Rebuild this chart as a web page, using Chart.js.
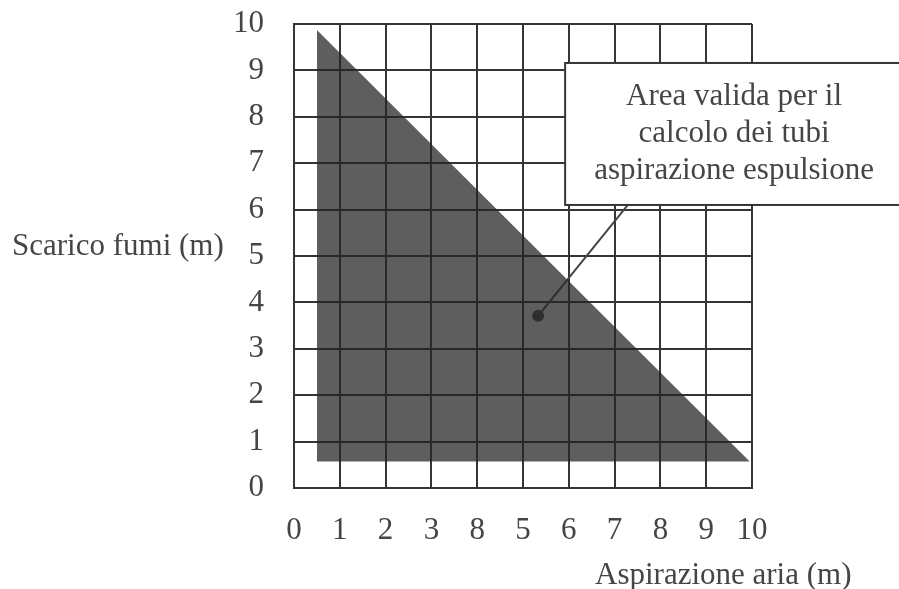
<!DOCTYPE html>
<html>
<head>
<meta charset="utf-8">
<script src="https://cdn.jsdelivr.net/npm/chart.js@4.4.1/dist/chart.umd.min.js"></script>
<style>
  html, body { margin: 0; padding: 0; background: #fff; }
  #wrap { width: 899px; height: 589px; }
</style>
</head>
<body>
<div id="wrap"><canvas id="c" width="899" height="589"></canvas></div>
<script>
// tick labels (the x axis really reads "8" where 4 should be)
var xTickLabels = ['0', '1', '2', '3', '8', '5', '6', '7', '8', '9', '10'];
var yTickLabels = ['0', '1', '2', '3', '4', '5', '6', '7', '8', '9', '10'];

// valid area: hypotenuse, filled down to its base
var areaX = [0.5, 9.95];
var areaY = [9.87, 0.57];
var areaBase = 0.57;

// callout marker and leader
var markerX = [5.33];
var markerY = [3.71];
var leaderX = [5.33, 7.29];
var leaderY = [3.71, 6.10];

// callout box (data units) and its text
var boxLeft = 5.92, boxTop = 9.16, boxBottom = 6.10;
var boxLines = ['Area valida per il', 'calcolo dei tubi', 'aspirazione espulsione'];

var yTitle = 'Scarico fumi (m)';
var xTitle = 'Aspirazione aria (m)';

var FONT = '31px "Liberation Serif", "Times New Roman", serif';
var INK = '#454545';
var GRID = '#353535';

function pts(xs, ys) {
  return xs.map(function (x, i) { return { x: x, y: ys[i] }; });
}

// box, texts and axis titles drawn on top
var extras = {
  id: 'extras',
  afterDatasetsDraw: function (chart) {
    var ctx = chart.ctx, sx = chart.scales.x, sy = chart.scales.y;
    var l = sx.getPixelForValue(boxLeft);
    var t = sy.getPixelForValue(boxTop);
    var b = sy.getPixelForValue(boxBottom);
    ctx.save();
    ctx.fillStyle = '#fff';
    ctx.strokeStyle = GRID;
    ctx.lineWidth = 2;
    ctx.fillRect(l, t, chart.width + 20 - l, b - t);
    ctx.strokeRect(l, t, chart.width + 20 - l, b - t);

    ctx.font = FONT;
    ctx.fillStyle = INK;
    ctx.textAlign = 'center';
    ctx.textBaseline = 'alphabetic';
    var cx = (l + chart.width + 4) / 2;
    boxLines.forEach(function (s, i) {
      ctx.fillText(s, cx, t + 42 + i * 37);
    });

    ctx.textAlign = 'left';
    ctx.fillText(yTitle, 12, 255);
    ctx.fillText(xTitle, 595, 584);
    ctx.restore();
  }
};

new Chart(document.getElementById('c'), {
  type: 'line',
  data: {
    datasets: [
      {
        data: pts(areaX, areaY),
        borderWidth: 0,
        pointRadius: 0,
        backgroundColor: 'rgba(38,38,38,0.74)',
        fill: { value: areaBase }
      },
      {
        data: pts(leaderX, leaderY),
        borderColor: INK,
        borderWidth: 2,
        pointRadius: 0,
        fill: false
      },
      {
        data: pts(markerX, markerY),
        showLine: false,
        pointRadius: 6,
        pointBackgroundColor: INK,
        pointBorderWidth: 0,
        fill: false
      }
    ]
  },
  options: {
    responsive: false,
    animation: false,
    events: [],
    layout: { padding: { top: 0, right: 147, left: 0, bottom: 0 } },
    plugins: { legend: { display: false }, tooltip: { enabled: false } },
    scales: {
      x: {
        type: 'linear',
        min: 0, max: 10,
        afterFit: function (s) { s.height = 101; },
        grid: { color: GRID, lineWidth: 2, drawTicks: false },
        border: { color: GRID, width: 2 },
        ticks: {
          stepSize: 1,
          padding: 24,
          color: INK,
          font: { family: '"Liberation Serif", "Times New Roman", serif', size: 31 },
          callback: function (v, i) { return xTickLabels[i]; }
        }
      },
      y: {
        type: 'linear',
        min: 0, max: 10,
        afterFit: function (s) {
          s.width = 294;
          s.paddingTop = 24;
          s.paddingBottom = 0;
        },
        grid: { color: GRID, lineWidth: 2, drawTicks: false },
        border: { color: GRID, width: 2 },
        ticks: {
          stepSize: 1,
          padding: 30,
          color: INK,
          font: { family: '"Liberation Serif", "Times New Roman", serif', size: 31 },
          callback: function (v, i) { return yTickLabels[i]; }
        }
      }
    }
  },
  plugins: [extras]
});
</script>
</body>
</html>
